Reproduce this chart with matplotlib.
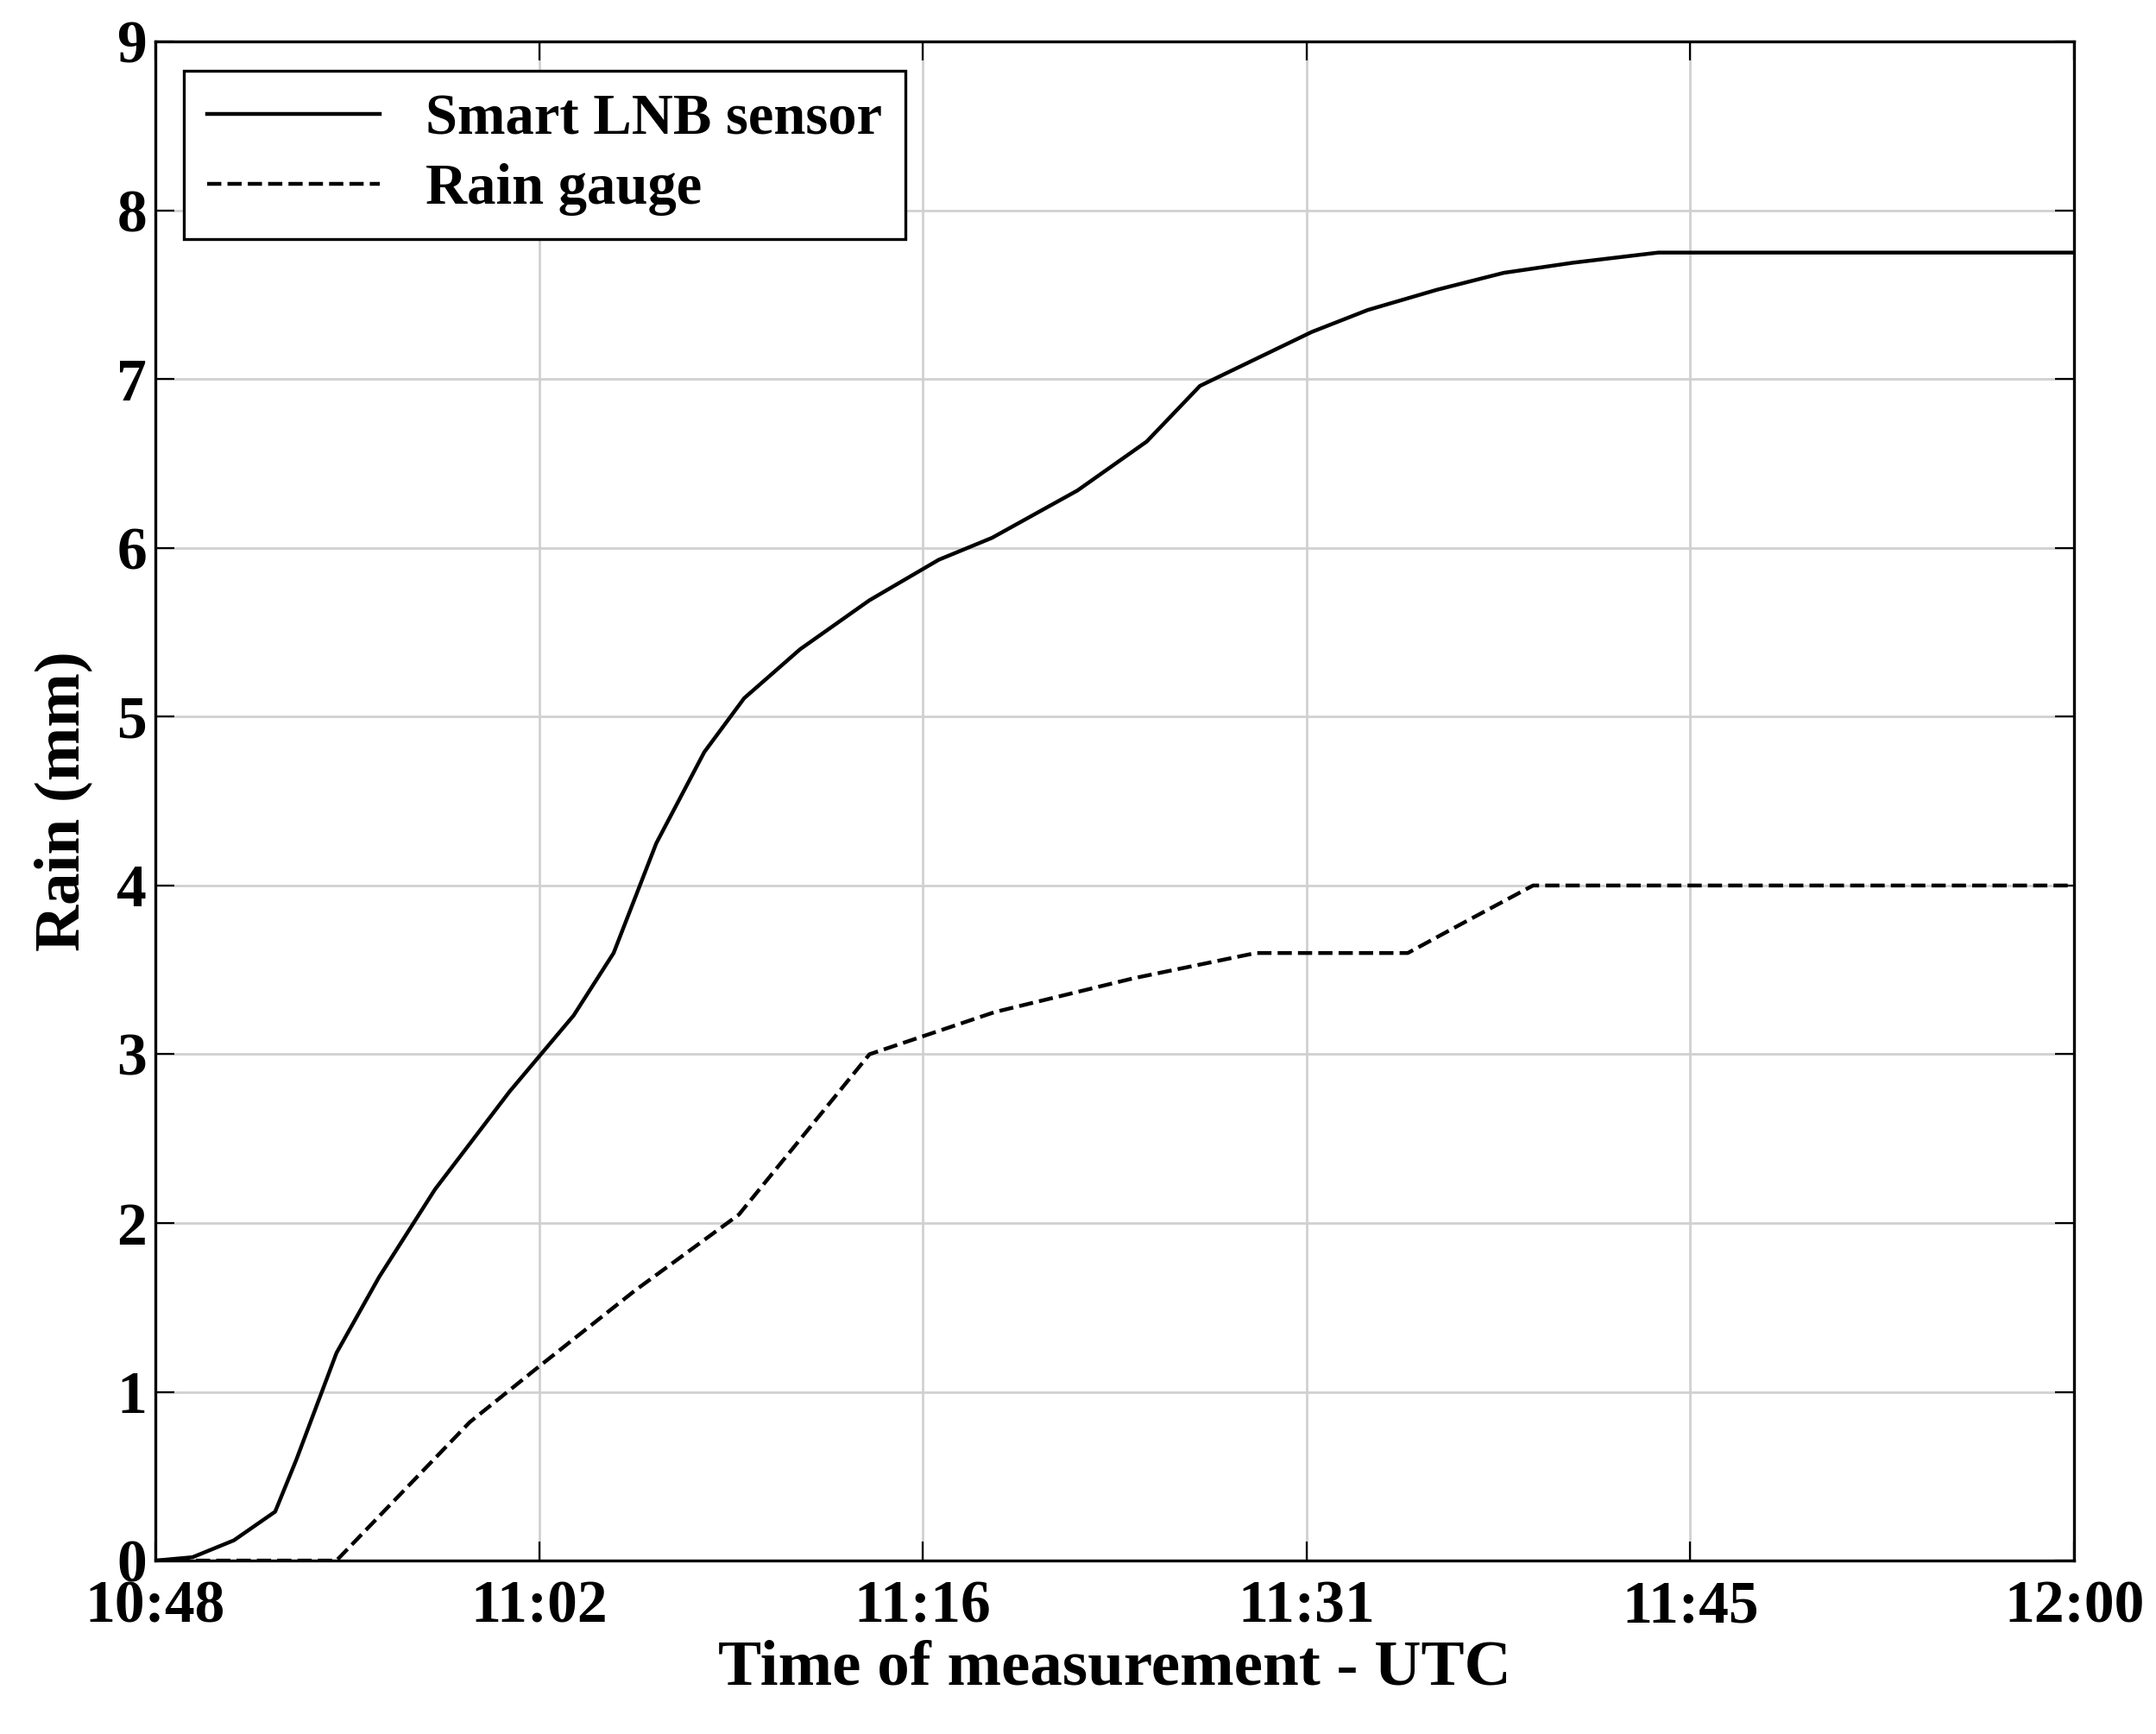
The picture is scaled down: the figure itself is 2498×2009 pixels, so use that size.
import matplotlib
matplotlib.use("Agg")
import matplotlib.pyplot as plt

lnb_t = [0, 1.4, 2.95, 4.5, 5.3, 6.8, 8.4, 10.5, 13.3, 15.7, 17.2, 18.8, 20.6, 22.1, 24.2, 26.8, 29.4, 31.4, 34.6, 37.2, 39.2, 41.3, 43.4, 45.5, 48.1, 50.6, 53.2, 56.4, 59.5, 64.1, 72]
lnb_v = [0, 0.02, 0.12, 0.29, 0.6, 1.23, 1.68, 2.2, 2.78, 3.23, 3.6, 4.25, 4.79, 5.11, 5.4, 5.69, 5.93, 6.06, 6.34, 6.63, 6.96, 7.12, 7.28, 7.41, 7.53, 7.63, 7.69, 7.75, 7.75, 7.75, 7.75]
gauge_t = [0, 6.8, 11.8, 14.4, 18.0, 21.9, 26.8, 31.5, 36.7, 41.3, 47.0, 49.1, 51.7, 72]
gauge_v = [0, 0, 0.82, 1.15, 1.6, 2.05, 3.0, 3.25, 3.45, 3.6, 3.6, 3.78, 4.0, 4.0]
tick_labels = ["10:48", "11:02", "11:16", "11:31", "11:45", "12:00"]

plt.rcParams['font.family'] = ['Liberation Serif', 'DejaVu Serif']
plt.rcParams['font.weight'] = 'bold'
fig = plt.figure(figsize=(12.49, 10.045), dpi=200)
ax = fig.add_axes([0.072, 0.10, 0.89, 0.876])
ax.plot(lnb_t, lnb_v, 'k-', lw=1.6, label='Smart LNB sensor')
ax.plot(gauge_t, gauge_v, 'k--', lw=1.6, label='Rain gauge')
ax.set_xlim(0, 72)
ax.set_ylim(0, 9)
ax.set_xticks([i * 14.4 for i in range(6)])
ax.set_xticklabels(tick_labels)
ax.set_yticks(range(10))
ax.grid(True, color='#d0d0d0', lw=1)
ax.tick_params(labelsize=25, direction='in', length=8, top=True, right=True)
ax.tick_params(axis='x', pad=8)
for s in ax.spines.values():
    s.set_linewidth(1.2)
ax.set_xlabel('Time of measurement - UTC', fontsize=27, fontweight='bold', labelpad=2)
ax.set_ylabel('Rain (mm)', fontsize=27, fontweight='bold', labelpad=10)
leg = ax.legend(loc='upper left', fontsize=24, fancybox=False, edgecolor='black', framealpha=1,
                handlelength=3, borderaxespad=0.5, labelspacing=0.3)
leg.get_frame().set_linewidth(1.2)
fig.savefig('out.png')
